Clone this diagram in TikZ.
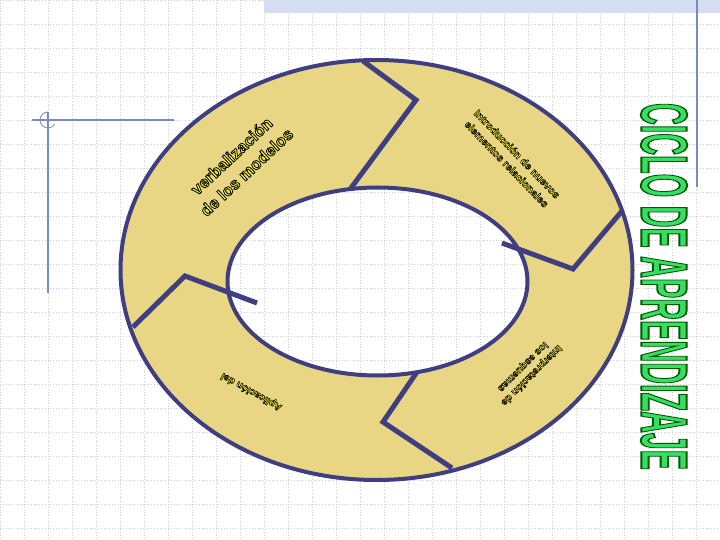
\documentclass[tikz,border=0pt]{standalone}
\usepackage{fontspec}
\setmainfont{Liberation Sans}
\definecolor{gridc}{RGB}{205,205,210}
\definecolor{bandc}{RGB}{212,221,242}
\definecolor{decoc}{RGB}{120,140,195}
\definecolor{ringfill}{RGB}{233,214,133}
\definecolor{ringline}{RGB}{62,62,128}
\definecolor{titlegreen}{RGB}{55,222,100}
\definecolor{txtyellow}{RGB}{255,255,0}
\newcommand{\outltext}[4]{{\color{#1}\special{pdf:literal direct 2 Tr #3 w #2 RG}#4\special{pdf:literal direct 0 Tr}}}
\tikzset{
  gridline/.style={gridc, dotted, line width=0.8pt},
  decoline/.style={decoc, line width=1.2pt},
  ringedge/.style={ringline, line width=4pt},
  divider/.style={ringline, line width=5pt, line join=miter},
  seglabel/.style={inner sep=0pt, align=center, font=\bfseries}
}
\begin{document}
\begin{tikzpicture}[x=1pt,y=-1pt]
\useasboundingbox (0,0) rectangle (720,540);
\fill[white] (0,0) rectangle (720,540);
% grid
\foreach \i in {0,24,...,720} \draw[gridline] (\i,0) -- (\i,540);
\foreach \j in {0,24,...,540} \draw[gridline] (0,\j) -- (720,\j);
% top band and lines
\fill[bandc] (264,0) rectangle (720,13);
\draw[decoline] (697,0) -- (697,187);
\draw[decoline] (32,120) -- (174,120);
\draw[decoline] (48,112) -- (48,293);
\draw[decoc, line width=0.8pt] (48,112) arc[start angle=90, end angle=330, radius=8pt];
% ring
\fill[ringfill, even odd rule] (376.5,270) ellipse [x radius=256pt, y radius=210pt]
  (377.5,281.5) ellipse [x radius=150pt, y radius=94pt];
\draw[ringedge] (376.5,270) ellipse [x radius=256pt, y radius=210pt];
\draw[ringedge] (377.5,281.5) ellipse [x radius=150pt, y radius=94pt];
% dividers
\coordinate (t1) at (363,61); \coordinate (t2) at (416,100); \coordinate (t3) at (351,188);
\coordinate (r1) at (622,211); \coordinate (r2) at (573,269); \coordinate (r3) at (502,243);
\coordinate (b1) at (417,372); \coordinate (b2) at (383,422); \coordinate (b3) at (452,468);
\coordinate (l1) at (133,327); \coordinate (l2) at (185,276); \coordinate (l3) at (257,303);
\draw[divider] (t1) -- (t2) -- (t3);
\draw[divider] (r1) -- (r2) -- (r3);
\draw[divider] (b1) -- (b2) -- (b3);
\draw[divider] (l1) -- (l2) -- (l3);
% labels
\node[seglabel, rotate=43, font=\fontsize{16.5}{22}\selectfont\bfseries] (verb) at (239,164)
  {\outltext{txtyellow}{0 0 0}{0.8}{verbalización}\\\outltext{txtyellow}{0 0 0}{0.8}{de los modelos}};
\node[seglabel, rotate=-46, font=\fontsize{10.5}{14.5}\selectfont\bfseries] (intro) at (512,159)
  {\outltext{txtyellow}{0 0 0}{0.5}{Introducción de nuevos}\\\outltext{txtyellow}{0 0 0}{0.5}{elementos relacionales}};
\node[seglabel, rotate=225, font=\fontsize{10}{12}\selectfont\bfseries] (interp) at (527,371)
  {\outltext{txtyellow}{0 0 0}{0.5}{Interpretación de}\\\outltext{txtyellow}{0 0 0}{0.5}{los esquemas}};
\node[seglabel, rotate=151, font=\fontsize{10}{12}\selectfont\bfseries] (aplic) at (251.5,391.5)
  {\outltext{txtyellow}{0 0 0}{0.5}{Aplicación del}};
% title
\node[inner sep=0pt, rotate=-90] (title) at (664,286.5)
  {\resizebox{367pt}{46pt}{\bfseries\outltext{titlegreen}{0 0.35 0}{0.28}{CICLO DE APRENDIZAJE}}};
\end{tikzpicture}
\end{document}
